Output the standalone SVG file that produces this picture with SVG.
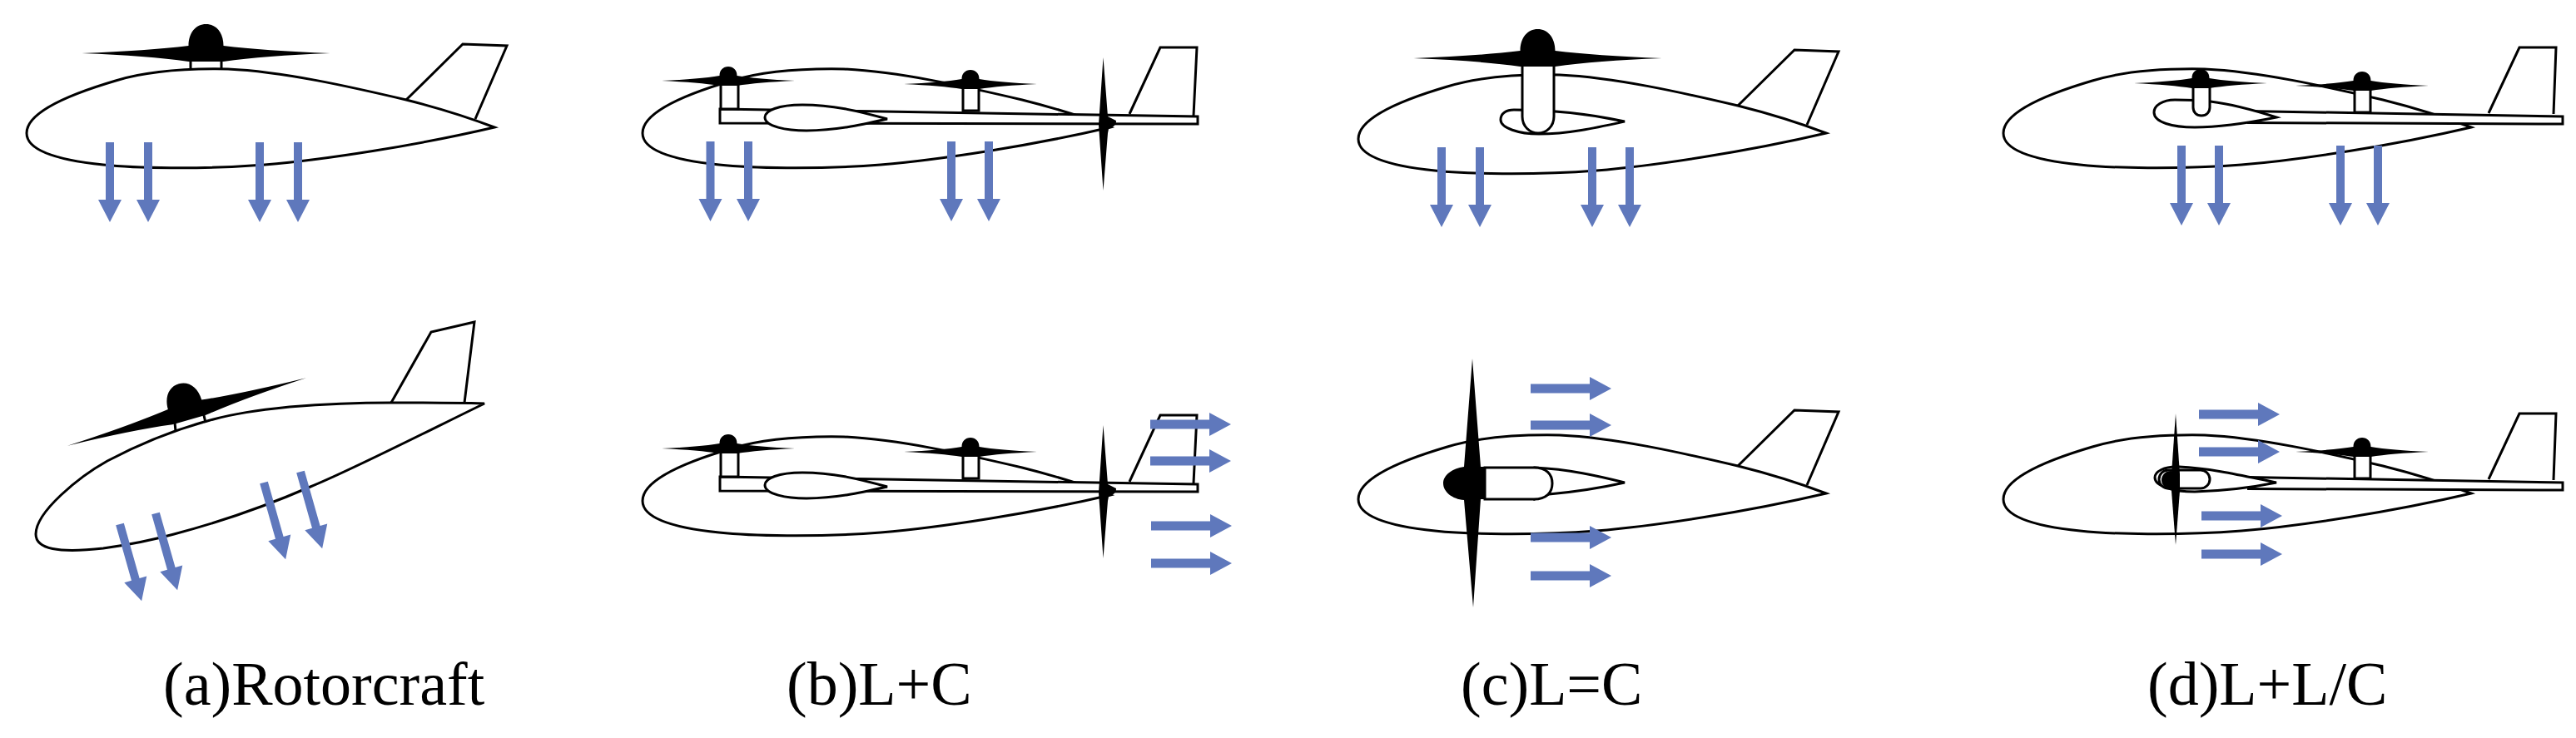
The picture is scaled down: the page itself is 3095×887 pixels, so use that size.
<svg xmlns="http://www.w3.org/2000/svg" xmlns:xlink="http://www.w3.org/1999/xlink" width="3095" height="887" viewBox="0 0 3095 887">
<style>
.o{fill:#fff;stroke:#000;stroke-width:3;stroke-linejoin:miter}
.l{fill:none;stroke:#000;stroke-width:3}
.k{fill:#000}
.b{fill:#5f78bc}
.t{font-family:"Liberation Serif","Times New Roman",serif;font-size:74px;fill:#000}
</style>
<defs>
<path id="dn" class="b" d="M-5 0H5V69H14L0 96L-14 69H-5Z"/>
<path id="rt" class="b" d="M0 -5.500H71V-14L97 0L71 14V5.500H0Z"/>
<path id="body" class="o" d="M594 153C560 140 520 128 488 120C420 104 340 86 274 83C220 82 175 86 139 97C105 107 32 130 32 160C32 185 85 194 124 198C160 202 240 204 318 198C390 192 500 175 594 153Z"/>
<g id="wingA">
<path class="o" d="M488 120L556 53L609 55L571 143"/>
<use xlink:href="#body"/>
</g>
<g id="wingB">
<path class="o" d="M1357 137L1394 57H1438L1434 139"/>
<use xlink:href="#body" x="740"/>
<path class="o" d="M865 131L1439 140V149L865 148Z"/>
<path class="o" d="M1066 143C1030 133 1000 126 964 126C935 126 919 133 919 141C919 152 945 157 969 157C1005 157 1035 150 1066 143Z"/>
<rect class="o" x="866" y="100" width="21" height="31"/>
<rect class="o" x="1157" y="102" width="19" height="31"/>
<use xlink:href="#rotorS" x="875" y="97"/>
<use xlink:href="#rotorS" x="1166" y="101"/>
<path class="k" d="M1325.500 69L1331 140L1341 145Q1342 151 1332 155L1331 160L1325.500 229L1320 150Z"/>
</g>
<g id="wingD">
<path class="o" d="M2990 136L3027 57H3071L3068 137"/>
<use xlink:href="#body" x="2375"/>
<path class="o" d="M2700 133.500L3079 140V149L2700 147.500"/>
<rect class="o" x="2829" y="106" width="19" height="29"/>
<use xlink:href="#rotorS" x="2838" y="103"/>
</g>
<path id="rotorB" class="k" d="M-149 0Q-70 -3 -21 -9C-21 -25 -12 -35 0 -35C12 -35 21 -25 21 -9Q70 -3 149 0Q70 3 21 10H-21Q-70 3 -149 0Z"/>
<path id="rotorS" class="k" d="M-80 0Q-35 -2 -10.500 -6C-10.500 -13 -6 -17 0 -17C6 -17 10.500 -13 10.500 -6Q35 -2 80 0Q35 2 10.500 6H-10.500Q-35 2 -80 0Z"/>
</defs>

<g id="plane-a-top">
<use xlink:href="#wingA"/>
<path class="l" d="M229 72V84M266 72V84"/>
<use xlink:href="#rotorB" x="247.500" y="64"/>
</g>
<g id="plane-a-bottom">
<path class="o" d="M470 484L518 399L570 387L558 484"/>
<path class="o" d="M582 485C540 484 510 484 470 484C420 484 385 486 348 489C310 493 280 497 249 506C205 518 165 535 129 554C95 573 43 615 43 642C43 660 70 665 124 659C160 654 180 650 209 642C270 626 320 608 373 585C420 566 500 525 582 485Z"/>
<path class="l" d="M211 518L209 498M247 508L244 495"/>
<use xlink:href="#rotorB" transform="translate(224.500 495) rotate(-15.900)"/>
</g>
<g id="plane-b-top"><use xlink:href="#wingB"/></g>
<g id="plane-b-bottom"><use xlink:href="#wingB" y="442"/></g>
<g id="plane-c-top">
<use xlink:href="#wingA" x="1600" y="7"/>
<path class="o" d="M1952 146C1915 138 1870 132 1819 132C1810 132 1803 136 1803 144C1803 154 1825 161 1849 161C1885 161 1920 153 1952 146Z"/>
<path class="o" d="M1829 72V140C1829 152 1838 160 1848 160C1858 160 1867 152 1867 140V72Z"/>
<use xlink:href="#rotorB" x="1847.500" y="70"/>
</g>
<g id="plane-c-bottom">
<use xlink:href="#wingA" x="1600" y="440"/>
<path class="o" d="M1844 562C1885 564 1920 572 1952 580C1925 586 1895 591 1861 594L1844 600Z"/>
<path class="o" d="M1784 562H1843C1858 562 1865 570 1865 581C1865 592 1858 600 1843 600H1784Z"/>
<path class="k" d="M1769 431L1779 561H1784V600H1779L1770 730L1759 601C1745 600 1734 591 1734 581C1734 571 1745 563 1759 561Z"/>
</g>
<g id="plane-d-top">
<use xlink:href="#wingD"/>
<path class="o" d="M2735 141C2710 133 2680 125 2656 122C2640 120 2625 120 2613 120C2598 120 2588 127 2588 135C2588 147 2610 153 2637 153C2670 153 2705 147 2735 141Z"/>
<path class="o" d="M2635 100V129C2635 135 2639 139 2645 139C2651 139 2655 135 2655 129V100Z"/>
<use xlink:href="#rotorS" x="2644" y="100"/>
</g>
<g id="plane-d-bottom">
<use xlink:href="#wingD" y="440"/>
<path class="o" d="M2735 580C2700 573 2660 563 2618 561C2600 560 2589 567 2589 574C2589 584 2610 591 2637 591C2670 590 2705 586 2735 580Z"/>
<rect class="o" x="2594" y="565" width="61" height="22" rx="11"/>
<circle class="k" cx="2608" cy="577" r="11"/>
<path class="k" d="M2614 497L2619 570V590L2614 655L2609 590V570Z"/>
</g>

<g id="connectors">
<use xlink:href="#dn" x="132" y="171"/><use xlink:href="#dn" x="178" y="171"/><use xlink:href="#dn" x="312" y="171"/><use xlink:href="#dn" x="358" y="171"/>
<use xlink:href="#dn" transform="translate(144 630) rotate(-15.800)"/><use xlink:href="#dn" transform="translate(187 617) rotate(-15.800)"/><use xlink:href="#dn" transform="translate(317 580) rotate(-15.800)"/><use xlink:href="#dn" transform="translate(361 567) rotate(-15.800)"/>
<use xlink:href="#dn" x="853.500" y="170"/><use xlink:href="#dn" x="899" y="170"/><use xlink:href="#dn" x="1143" y="170"/><use xlink:href="#dn" x="1188" y="170"/>
<use xlink:href="#rt" x="1382" y="510"/><use xlink:href="#rt" x="1382" y="554"/><use xlink:href="#rt" x="1383" y="632"/><use xlink:href="#rt" x="1383" y="677"/>
<use xlink:href="#dn" x="1732" y="177"/><use xlink:href="#dn" x="1778" y="177"/><use xlink:href="#dn" x="1913" y="177"/><use xlink:href="#dn" x="1958" y="177"/>
<use xlink:href="#rt" x="1839" y="467"/><use xlink:href="#rt" x="1839" y="511"/><use xlink:href="#rt" x="1839" y="646"/><use xlink:href="#rt" x="1839" y="692"/>
<use xlink:href="#dn" x="2621" y="175"/><use xlink:href="#dn" x="2666" y="175"/><use xlink:href="#dn" x="2812" y="175"/><use xlink:href="#dn" x="2857" y="175"/>
<use xlink:href="#rt" x="2642" y="498"/><use xlink:href="#rt" x="2642" y="543"/><use xlink:href="#rt" x="2645" y="620"/><use xlink:href="#rt" x="2645" y="666"/>
</g>

<text id="label-a" class="t" x="196" y="847">(a)Rotorcraft</text>
<text id="label-b" class="t" x="945" y="847">(b)L+C</text>
<text id="label-c" class="t" x="1755" y="847">(c)L=C</text>
<text id="label-d" class="t" x="2580" y="847">(d)L+L/C</text>
</svg>
